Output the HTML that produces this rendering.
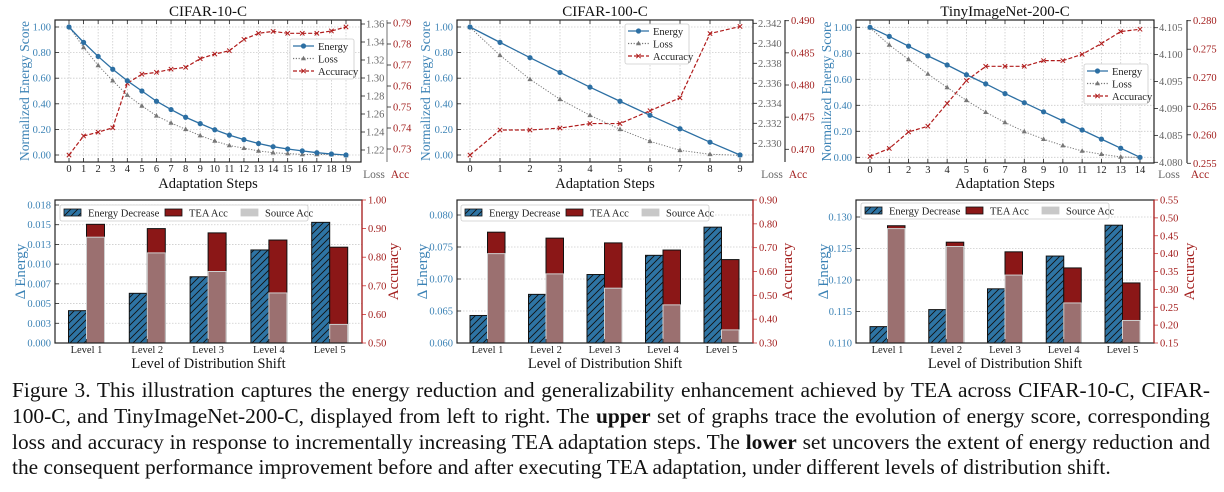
<!DOCTYPE html>
<html><head><meta charset="utf-8">
<style>
html,body{margin:0;padding:0;background:#fff;}
body{width:1224px;height:492px;position:relative;overflow:hidden;font-family:"Liberation Serif",serif;}
svg{position:absolute;left:0;top:0;}
svg text{font-family:"Liberation Serif",serif;}
.cap{position:absolute;left:12px;width:1198px;font-size:21.4px;line-height:25.7px;color:#111;text-align:justify;text-align-last:justify;white-space:nowrap;}
</style></head>
<body>
<svg id="chart" width="1224" height="372" viewBox="0 0 1224 372">
<defs>
<pattern id="hatch" patternUnits="userSpaceOnUse" width="7" height="7">
<rect width="7" height="7" fill="#2e74a4"/>
<path d="M-1,8 L8,-1 M-2,2 L2,-2 M5,9 L9,5" stroke="#111" stroke-width="0.9"/>
</pattern>
</defs>
</svg>
<div class="cap" style="top:378px">Figure 3. This illustration captures the energy reduction and generalizability enhancement achieved by TEA across CIFAR-10-C, CIFAR-</div>
<div class="cap" style="top:404px">100-C, and TinyImageNet-200-C, displayed from left to right. The <b>upper</b> set of graphs trace the evolution of energy score, corresponding</div>
<div class="cap" style="top:430px">loss and accuracy in response to incrementally increasing TEA adaptation steps. The <b>lower</b> set uncovers the extent of energy reduction and</div>
<div class="cap" style="top:455px;text-align-last:left">the consequent performance improvement before and after executing TEA adaptation, under different levels of distribution shift.</div>
<script>
// ---------- DATA ----------
const titles = ["CIFAR-10-C","CIFAR-100-C","TinyImageNet-200-C"];
const energyC10 = [1,0.88,0.77,0.67,0.58,0.50,0.42,0.355,0.295,0.245,0.197,0.155,0.12,0.09,0.065,0.047,0.032,0.018,0.008,0];
const lossC10 = [1.357,1.334,1.314,1.297,1.281,1.269,1.258,1.250,1.243,1.236,1.230,1.225,1.222,1.219,1.217,1.216,1.215,1.215,1.215,1.214];
const accC10 = [0.7271,0.7362,0.7380,0.7401,0.7613,0.7656,0.7665,0.7680,0.7689,0.7730,0.7752,0.7768,0.7822,0.7851,0.7860,0.7851,0.7851,0.7851,0.7862,0.7881];
const energyC100 = [1,0.88,0.76,0.645,0.53,0.42,0.31,0.205,0.1,0];
const lossC100 = [2.3416,2.3388,2.3364,2.3344,2.3328,2.3314,2.3302,2.3293,2.3289,2.3288];
const accC100 = [0.4691,0.4730,0.4730,0.4733,0.4740,0.4740,0.4760,0.4780,0.4880,0.4891];
const energyTin = [1,0.93,0.855,0.78,0.71,0.635,0.565,0.49,0.42,0.35,0.28,0.21,0.14,0.07,0];
const lossTin = [4.1050,4.1018,4.0991,4.0964,4.0939,4.0915,4.0893,4.0874,4.0857,4.0843,4.0831,4.0821,4.0815,4.0810,4.0809];
const accTin = [0.2562,0.2576,0.2605,0.2615,0.2655,0.2695,0.2720,0.2720,0.2720,0.2730,0.2730,0.2741,0.2760,0.2781,0.2785];
const energyTicks = [0,0.2,0.4,0.6,0.8,1.0];
const lossTicksC10 = [1.22,1.24,1.26,1.28,1.30,1.32,1.34,1.36];
const accTicksC10 = [0.73,0.74,0.75,0.76,0.77,0.78,0.79];
const lossTicksC100 = [2.330,2.332,2.334,2.336,2.338,2.340,2.342];
const accTicksC100 = [0.470,0.475,0.480,0.485,0.490];
const lossTicksTin = [4.080,4.085,4.090,4.095,4.100,4.105];
const accTicksTin = [0.255,0.260,0.265,0.270,0.275,0.280];

const levels = ["Level 1","Level 2","Level 3","Level 4","Level 5"];
const dEnergyC10 = [0.0041,0.0063,0.0084,0.0118,0.0153];
const teaAccC10 = [0.915,0.900,0.885,0.860,0.835];
const srcAccC10 = [0.870,0.815,0.750,0.675,0.565];
const dEnergyC100 = [0.0643,0.0676,0.0707,0.0737,0.0781];
const teaAccC100 = [0.765,0.740,0.720,0.690,0.650];
const srcAccC100 = [0.675,0.590,0.530,0.460,0.355];
const dEnergyTin = [0.1126,0.1153,0.1186,0.1238,0.1287];
const teaAccTin = [0.478,0.432,0.405,0.360,0.318];
const srcAccTin = [0.470,0.420,0.340,0.262,0.213];
const eTicksC10 = [0,0.0025,0.005,0.0075,0.01,0.0125,0.015,0.0175];
const eTickLabelsC10 = ["0.000","0.003","0.005","0.007","0.010","0.013","0.015","0.018"];
const aTicksC10 = [0.5,0.6,0.7,0.8,0.9,1.0];
const eTicksC100 = [0.060,0.065,0.070,0.075,0.080];
const aTicksC100 = [0.3,0.4,0.5,0.6,0.7,0.8,0.9];
const eTicksTin = [0.110,0.115,0.120,0.125,0.130];
const aTicksTin = [0.15,0.2,0.25,0.3,0.35,0.4,0.45,0.5,0.55];

// ---------- helpers ----------
const svg = document.getElementById('chart');
const NS = 'http://www.w3.org/2000/svg';
function mk(tag, attrs, parent){const e=document.createElementNS(NS,tag);for(const k in attrs)e.setAttribute(k,attrs[k]);(parent||svg).appendChild(e);return e;}
function txt(s, attrs, parent){const e=mk('text',attrs,parent);e.textContent=s;return e;}
function lin(d0,d1,p0,p1){return v=>p0+(v-d0)*(p1-p0)/(d1-d0);}
const BLUE='#3b82b5', RED='#a3201f', GRAY='#666';

// ---------- top charts ----------
function topChart(c){
  const g=mk('g',{});
  
  
  const n=c.energy.length;
  const X=lin(0,n-1,c.x0,c.x1);
  const YE=lin(0,1,c.ye0,c.ye1);
  const YL=lin(c.lossD[0],c.lossD[1],c.lossP[0],c.lossP[1]);
  const YA=lin(c.accD[0],c.accD[1],c.accP[0],c.accP[1]);
  const B=c.box;
  for(let i=0;i<n;i++){const l=mk('line',{x1:X(i),x2:X(i),y1:B[1],y2:B[3],stroke:'#ccc','stroke-width':0.8,'stroke-dasharray':'1.5,1.5'},g);}
  energyTicks.forEach(v=>{const l=mk('line',{x1:B[0],x2:B[2],y1:YE(v),y2:YE(v),stroke:'#ccc','stroke-width':0.8,'stroke-dasharray':'1.5,1.5'},g);});
  const fr=mk('rect',{x:B[0],y:B[1],width:B[2]-B[0],height:B[3]-B[1],fill:'none',stroke:'#222','stroke-width':1.2},g);
  
  for(let i=0;i<n;i++){
    mk('line',{x1:X(i),x2:X(i),y1:B[3],y2:B[3]-4,stroke:'#222','stroke-width':0.8},g);
    mk('line',{x1:X(i),x2:X(i),y1:B[1],y2:B[1]+4,stroke:'#222','stroke-width':0.8},g);
    const t=txt(String(i),{x:X(i),y:B[3]+10,'font-size':10.5,'text-anchor':'middle',fill:'#222'},g);
    
  }
  energyTicks.forEach(v=>{
    mk('line',{x1:B[0],x2:B[0]+4,y1:YE(v),y2:YE(v),stroke:'#222','stroke-width':0.8},g);
    const t=txt(v.toFixed(2),{x:B[0]-4,y:YE(v)+3.5,'font-size':10.5,'text-anchor':'end',fill:BLUE},g);
    
  });
  c.lossTicks.forEach(v=>{
    mk('line',{x1:B[2],x2:B[2]+4,y1:YL(v),y2:YL(v),stroke:'#222','stroke-width':0.8},g);
    const t=txt(v.toFixed(c.lossDec),{x:B[2]+5,y:YL(v)+3.5,'font-size':10.5,fill:GRAY},g);
    
  });
  const sp=mk('line',{x1:c.accX,x2:c.accX,y1:B[1],y2:B[3],stroke:c.accSpine,'stroke-width':1.2},g);
  
  c.accTicks.forEach(v=>{
    mk('line',{x1:c.accX,x2:c.accX+4,y1:YA(v),y2:YA(v),stroke:'#222','stroke-width':0.8},g);
    const t=txt(v.toFixed(c.accDec),{x:c.accX+6,y:YA(v)+3.5,'font-size':10.5,fill:RED},g);
    
  });
  const pe=c.energy.map((v,i)=>X(i)+','+YE(v)).join(' ');
  const pl=c.loss.map((v,i)=>X(i)+','+YL(v)).join(' ');
  const pa=c.acc.map((v,i)=>X(i)+','+YA(v)).join(' ');
  const la=mk('polyline',{points:pa,fill:'none',stroke:'#b01c1c','stroke-width':1.2,'stroke-dasharray':'4,2'},g);
  
  const ll=mk('polyline',{points:pl,fill:'none',stroke:'#777','stroke-width':1,'stroke-dasharray':'1.2,1.6'},g);
  
  const le=mk('polyline',{points:pe,fill:'none',stroke:'#2c6fa3','stroke-width':1.3},g);
  
  c.acc.forEach((v,i)=>{const x=X(i),y=YA(v);const m=mk('path',{d:`M${x-2.2},${y-2.2}L${x+2.2},${y+2.2}M${x-2.2},${y+2.2}L${x+2.2},${y-2.2}`,stroke:'#b01c1c','stroke-width':1},g);});
  c.loss.forEach((v,i)=>{const x=X(i),y=YL(v);const m=mk('path',{d:`M${x},${y-2.8}L${x+2.6},${y+1.8}L${x-2.6},${y+1.8}Z`,fill:'#777'},g);});
  c.energy.forEach((v,i)=>{const m=mk('circle',{cx:X(i),cy:YE(v),r:2.6,fill:'#2c6fa3'},g);});
  const L=c.leg;
  const lg=mk('g',{},g);
  mk('rect',{x:L[0],y:L[1],width:64,height:40,rx:2,fill:'#fff',stroke:'#ccc','stroke-width':0.8},lg);
  const items=[['Energy','#2c6fa3','none','e'],['Loss','#777','1.2,1.6','l'],['Accuracy','#b01c1c','4,2','a']];
  items.forEach((it,k)=>{
    const y=L[1]+7+k*12.5,x0=L[0]+3,x1=L[0]+24,xm=(x0+x1)/2;
    const ent=mk('g',{},lg);
    mk('line',{x1:x0,x2:x1,y1:y,y2:y,stroke:it[1],'stroke-width':1.2,'stroke-dasharray':it[2]},ent);
    if(it[3]==='e')mk('circle',{cx:xm,cy:y,r:2.6,fill:it[1]},ent);
    if(it[3]==='l')mk('path',{d:`M${xm},${y-2.8}L${xm+2.6},${y+1.8}L${xm-2.6},${y+1.8}Z`,fill:it[1]},ent);
    if(it[3]==='a')mk('path',{d:`M${xm-2.2},${y-2.2}L${xm+2.2},${y+2.2}M${xm-2.2},${y+2.2}L${xm+2.2},${y-2.2}`,stroke:it[1],'stroke-width':1},ent);
    txt(it[0],{x:L[0]+28,y:y+3.8,'font-size':10.5,fill:'#222'},ent);
  });
  const cx=(B[0]+B[2])/2;
  const t1=txt(c.title,{x:cx,y:16,'font-size':15,'text-anchor':'middle',fill:'#111'},g);
  const t2=txt('Adaptation Steps',{x:cx,y:188,'font-size':14.5,'text-anchor':'middle',fill:'#111'},g);
  const yc=(B[1]+B[3])/2;
  const t3=txt('Normalized Energy Score',{x:0,y:0,'font-size':13.5,'text-anchor':'middle',fill:BLUE,transform:`translate(${c.ylx},${yc}) rotate(-90)`},g);
  const t4=txt('Loss',{x:c.lossLx,y:178,'font-size':11.5,'text-anchor':'middle',fill:GRAY},g);
  const t5=txt('Acc',{x:c.accX+13,y:178,'font-size':11.5,'text-anchor':'middle',fill:RED},g);
}
topChart({name:'cifar10-steps-chart',title:titles[0],energy:energyC10,loss:lossC10,acc:accC10,box:[55,20,361,162],x0:69,x1:346,ye0:155,ye1:27,
  lossD:[1.22,1.36],lossP:[150,24],accD:[0.73,0.79],accP:[149,23],lossTicks:lossTicksC10,accTicks:accTicksC10,lossDec:2,accDec:2,accX:387,accSpine:'#888',leg:[290,39],ylx:29,lossLx:374});
topChart({name:'cifar100-steps-chart',title:titles[1],energy:energyC100,loss:lossC100,acc:accC100,box:[457,20,753,162],x0:470,x1:740,ye0:155,ye1:27,
  lossD:[2.330,2.342],lossP:[143.3,23.3],accD:[0.470,0.490],accP:[149.3,20.7],lossTicks:lossTicksC100,accTicks:accTicksC100,lossDec:3,accDec:3,accX:785,accSpine:'#333',leg:[625,24],ylx:430,lossLx:772});
topChart({name:'tinyimagenet-steps-chart',title:titles[2],energy:energyTin,loss:lossTin,acc:accTin,box:[856,20,1154,163],x0:870,x1:1140,ye0:157.3,ye1:27.3,
  lossD:[4.080,4.105],lossP:[162.3,27.7],accD:[0.255,0.280],accP:[163.3,20.7],lossTicks:lossTicksTin,accTicks:accTicksTin,lossDec:3,accDec:3,accX:1187,accSpine:'#333',leg:[1084,64],ylx:831,lossLx:1169});

// ---------- bottom charts ----------
function barChart(c){
  const g=mk('g',{});
  
  
  const B=c.box;
  const YE=lin(c.eD[0],c.eD[1],c.eP[0],c.eP[1]);
  const YA=lin(c.aD[0],c.aD[1],B[3],B[1]);
  const XC=i=>c.c0+i*c.step;
  c.eTicks.forEach((v,k)=>{
    const l=mk('line',{x1:B[0],x2:B[2],y1:YE(v),y2:YE(v),stroke:'#ccc','stroke-width':0.8,'stroke-dasharray':'1.5,1.5'},g);
    
    mk('line',{x1:B[0],x2:B[0]+4,y1:YE(v),y2:YE(v),stroke:'#222','stroke-width':0.8},g);
    const t=txt(c.eLabels?c.eLabels[k]:v.toFixed(3),{x:B[0]-4,y:YE(v)+3.5,'font-size':10.5,'text-anchor':'end',fill:BLUE},g);
    
  });
  c.aTicks.forEach(v=>{
    mk('line',{x1:B[2],x2:B[2]+4,y1:YA(v),y2:YA(v),stroke:'#c33','stroke-width':0.8},g);
    const t=txt(v.toFixed(2),{x:B[2]+6,y:YA(v)+3.5,'font-size':10.5,fill:RED},g);
    
  });
  const w=c.bw;
  c.dE.forEach((v,i)=>{
    const x=XC(i);
    const r=mk('rect',{x:x-w,y:YE(v),width:w,height:B[3]-YE(v),fill:'url(#hatch)',stroke:'#111','stroke-width':1},g);
    
    const t=mk('rect',{x:x,y:YA(c.tea[i]),width:w,height:B[3]-YA(c.tea[i]),fill:'#8b1717',stroke:'#111','stroke-width':1},g);
    
    const s=mk('rect',{x:x,y:YA(c.src[i]),width:w,height:B[3]-YA(c.src[i]),fill:'#9b7070',stroke:'#cfcfcf','stroke-width':1},g);
    
    const lb=txt(levels[i],{x:x,y:B[3]+10,'font-size':10.5,'text-anchor':'middle',fill:'#222'},g);
    
    mk('line',{x1:x,x2:x,y1:B[3],y2:B[3]-4,stroke:'#222','stroke-width':0.8},g);
  });
  const fr=mk('rect',{x:B[0],y:B[1],width:B[2]-B[0],height:B[3]-B[1],fill:'none',stroke:'#222','stroke-width':1.2},g);
  
  mk('line',{x1:B[2],x2:B[2],y1:B[1],y2:B[3],stroke:'#b22','stroke-width':1.2},g);
  const L=c.leg;
  const lg=mk('g',{},g);
  mk('rect',{x:L[0],y:L[1],width:248,height:16,rx:2,fill:'#fff',stroke:'#ccc','stroke-width':0.8},lg);
  [['Energy Decrease','url(#hatch)','#111',4],['TEA Acc','#8b1717','#111',105],['Source Acc','#c8c8c8','#c8c8c8',181]].forEach(it=>{
    const ent=mk('g',{},lg);
    mk('rect',{x:L[0]+it[3],y:L[1]+4,width:17,height:7,fill:it[1],stroke:it[2],'stroke-width':0.8},ent);
    txt(it[0],{x:L[0]+it[3]+24,y:L[1]+11.5,'font-size':10.5,fill:'#222'},ent);
  });
  const cx=(B[0]+B[2])/2, yc=(B[1]+B[3])/2;
  const t1=txt('Level of Distribution Shift',{x:cx,y:368,'font-size':14.5,'text-anchor':'middle',fill:'#111'},g);
  const t2=txt('Δ Energy',{x:0,y:0,'font-size':15,'text-anchor':'middle',fill:BLUE,transform:`translate(${c.ylx},${yc}) rotate(-90)`},g);
  const t3=txt('Accuracy',{x:0,y:0,'font-size':15,'text-anchor':'middle',fill:RED,transform:`translate(${c.yrx},${yc}) rotate(-90)`},g);
}
barChart({name:'cifar10-shift-chart',box:[55,200,362,343],eD:[0,0.0175],eP:[343,205],aD:[0.5,1.0],dE:dEnergyC10,tea:teaAccC10,src:srcAccC10,eTicks:eTicksC10,eLabels:eTickLabelsC10,aTicks:aTicksC10,c0:86.5,step:60.8,bw:18,leg:[60,205],ylx:25,yrx:398});
barChart({name:'cifar100-shift-chart',box:[457,200,753,343],eD:[0.060,0.080],eP:[343,215],aD:[0.3,0.9],dE:dEnergyC100,tea:teaAccC100,src:srcAccC100,eTicks:eTicksC100,aTicks:aTicksC100,c0:487.5,step:58.5,bw:17.5,leg:[461,205],ylx:427,yrx:792});
barChart({name:'tinyimagenet-shift-chart',box:[856,200,1154,343],eD:[0.110,0.130],eP:[343,217],aD:[0.15,0.55],dE:dEnergyTin,tea:teaAccTin,src:srcAccTin,eTicks:eTicksTin,aTicks:aTicksTin,c0:887.5,step:58.75,bw:17.5,leg:[861,203],ylx:828,yrx:1194});
</script>
</body></html>
